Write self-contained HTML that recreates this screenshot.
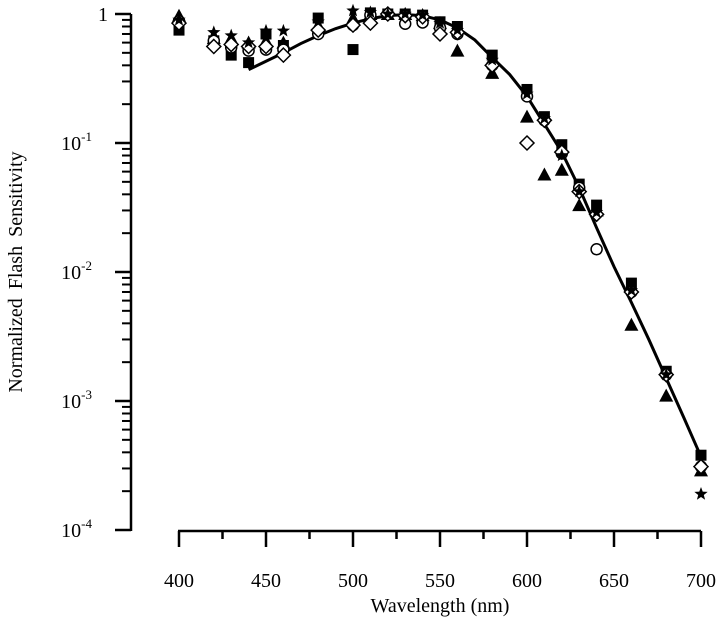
<!DOCTYPE html>
<html><head><meta charset="utf-8"><style>
body{margin:0;background:#fff}
svg text{font-family:"Liberation Serif",serif;fill:#000}
</style></head><body>
<svg id="chart" width="720" height="635" xmlns="http://www.w3.org/2000/svg">
<g id="axes"></g><g id="curve"></g><g id="marks"></g>
<text x="440" y="612" font-size="20" text-anchor="middle">Wavelength (nm)</text>
<text transform="translate(22,272) rotate(-90)" font-size="20" text-anchor="middle" word-spacing="4">Normalized Flash Sensitivity</text>
</svg>
<script>
const wavelengths=[400,420,430,440,450,460,480,500,510,520,530,540,550,560,580,600,610,620,630,640,660,680,700];
const squares=[0.75,0.62,0.48,0.42,0.70,0.57,0.93,0.53,1.02,1.0,1.0,0.98,0.87,0.80,0.48,0.26,0.16,0.097,0.048,0.033,0.0082,0.0017,0.00038];
const triangles=[0.97,0.65,0.65,0.60,0.62,0.60,0.82,0.93,1.0,1.0,1.0,0.98,0.85,0.52,0.35,0.16,0.057,0.062,0.033,0.030,0.0039,0.0011,0.00029];
const circles=[0.88,0.62,0.55,0.52,0.53,0.53,0.70,0.82,0.98,1.0,0.84,0.86,0.78,0.70,0.40,0.23,0.15,0.083,0.045,0.015,0.007,0.0016,0.00031];
const diamonds=[0.85,0.56,0.58,0.56,0.56,0.48,0.75,0.82,0.85,1.0,0.97,0.95,0.70,0.72,0.40,0.10,0.15,0.085,0.042,0.028,0.007,0.0016,0.00031];
const stars=[0.9,0.72,0.68,0.60,0.74,0.74,0.87,1.06,1.03,1.0,1.0,0.98,0.85,0.75,0.44,0.24,0.155,0.08,0.042,0.029,0.0072,0.0016,0.00019];
const fitWavelengths=[440,450,460,470,480,490,500,510,520,530,540,550,560,570,580,590,600,610,620,630,640,650,660,670,680,690,700];
const fitValues=[0.37,0.43,0.5,0.59,0.68,0.77,0.85,0.92,0.97,0.99,0.97,0.9,0.78,0.63,0.46,0.34,0.23,0.14,0.085,0.045,0.022,0.011,0.0058,0.003,0.0015,0.00075,0.00037];
const xTicks=[400,450,500,550,600,650,700];
const yTickExps=[0,-1,-2,-3,-4];

const NS="http://www.w3.org/2000/svg";
const X=w=>179+(w-400)*(522/300);
const Y=v=>14-Math.log10(v)*129;
function mk(tag,attrs,parent){const e=document.createElementNS(NS,tag);for(const k in attrs)e.setAttribute(k,attrs[k]);parent.appendChild(e);return e;}
const ax=document.getElementById('axes');
let l=mk('line',{x1:131,y1:Y(1),x2:131,y2:Y(1e-4)+1,stroke:'#000','stroke-width':2.5},ax);


l=mk('line',{x1:178,y1:531,x2:701,y2:531,stroke:'#000','stroke-width':2.5},ax);


yTickExps.forEach(e=>{
  const y=Y(Math.pow(10,e));
  const t=mk('line',{x1:115,y1:y,x2:131,y2:y,stroke:'#000','stroke-width':2.5},ax);
  
  
  if(e>-4){for(let m=2;m<=9;m++){const ym=Y(Math.pow(10,e-1)*m);mk('line',{x1:122,y1:ym,x2:131,y2:ym,stroke:'#000','stroke-width':2},ax);}}
  const tx=mk('text',{x:e===0?108:107,y:y+7,'font-size':20,'text-anchor':'end'},ax);
  
  
  if(e===0)tx.textContent='1';
  else{tx.setAttribute('x',92);tx.textContent='10';const s=mk('tspan',{dy:-9,'font-size':13},tx);s.textContent=String(e);}
});
xTicks.forEach((w,i)=>{
  const x=X(w);
  const t=mk('line',{x1:x,y1:531,x2:x,y2:547,stroke:'#000','stroke-width':2.5},ax);
  
  
  if(i<xTicks.length-1){const xm=X(w+25);mk('line',{x1:xm,y1:531,x2:xm,y2:539,stroke:'#000','stroke-width':2.5},ax);}
  const tx=mk('text',{x:x,y:587,'font-size':20,'text-anchor':'middle'},ax);
  
  
  tx.textContent=String(w);
});
const cv=document.getElementById('curve');
const p=mk('polyline',{points:fitWavelengths.map((w,i)=>X(w)+','+Y(fitValues[i])).join(' '),fill:'none',stroke:'#000','stroke-width':3},cv);


const mg=document.getElementById('marks');
function star(cx,cy,r){let s='';for(let i=0;i<10;i++){const a=-Math.PI/2+i*Math.PI/5;const rr=i%2?r*0.42:r;s+=(cx+rr*Math.cos(a))+','+(cy+rr*Math.sin(a))+' ';}return s;}
const draw={
 square:(x,y)=>mk('rect',{x:x-5.5,y:y-5.5,width:11,height:11,fill:'#000'},mg),
 triangle:(x,y)=>mk('polygon',{points:`${x},${y-7} ${x-7},${y+6} ${x+7},${y+6}`,fill:'#000'},mg),
 circle:(x,y)=>mk('circle',{cx:x,cy:y,r:5.5,fill:'#fff',stroke:'#000','stroke-width':1.5},mg),
 diamond:(x,y)=>mk('polygon',{points:`${x},${y-7} ${x+7},${y} ${x},${y+7} ${x-7},${y}`,fill:'#fff',stroke:'#000','stroke-width':1.5},mg),
 star:(x,y)=>mk('polygon',{points:star(x,y,7),fill:'#000'},mg)
};
[['square',squares],['triangle',triangles],['circle',circles],['diamond',diamonds],['star',stars]].forEach(([k,arr])=>{
  arr.forEach((v,i)=>{
    const e=draw[k](X(wavelengths[i]),Y(v));
    
    
  });
});
</script>
</body></html>
